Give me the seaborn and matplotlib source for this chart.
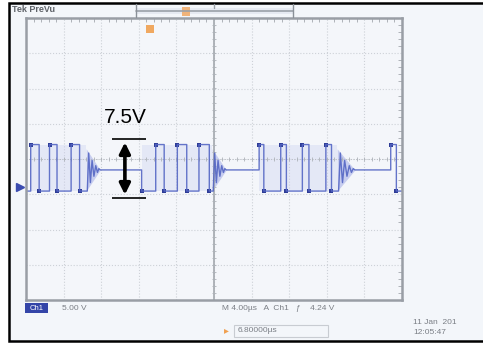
import numpy as np
import pandas as pd
import matplotlib
matplotlib.use("Agg")
import matplotlib.pyplot as plt
import seaborn as sns
from matplotlib.patches import Rectangle

sns.set_style("white")
plt.rcParams['font.family'] = ['Liberation Sans', 'DejaVu Sans']

# --- scope settings ---
volts_per_div = 5.0
us_per_div = 4.0
ground_div = -0.79          # channel 1 ground marker position (divisions)

# --- signal levels (V) ---
level_high = 6.0
level_low = -0.6
level_idle = 2.4

# --- channel 1 edges: time (us) and new level (V) ---
edge_t = [0.0, 0.5, 1.4, 2.5, 3.3, 4.8, 5.7,
          12.3, 13.8, 14.7, 16.1, 17.1, 18.4, 19.5,
          24.8, 25.3, 27.1, 27.7, 29.4, 30.1, 31.9, 32.5,
          38.8, 39.4]
edge_v = [-0.6, 6.0, -0.6, 6.0, -0.6, 6.0, -0.6,
          -0.6, 6.0, -0.6, 6.0, -0.6, 6.0, -0.6,
          6.0, -0.6, 6.0, -0.6, 6.0, -0.6, 6.0, -0.6,
          6.0, -0.6]

# --- ringing after each burst (settles to idle level) ---
ring_t0 = [6.4, 19.8, 33.1]
ring_len = [1.5, 1.5, 1.9]
ring_frac = [0.08, 0.18, 0.3, 0.42, 0.55, 0.68, 0.8, 0.9, 1.0]
ring_shape = [-1.0, 0.8, -0.6, 0.45, -0.3, 0.2, -0.12, 0.06, 0.0]
ring_swing = 3.0

# burst spans for persistence shading (us)
burst_start = [0.5, 12.3, 24.8]
burst_end = [6.4, 19.8, 33.1]

# --- build trace ---
pts = [(0.0, edge_v[0])]
v = edge_v[0]
rings = list(zip(ring_t0, ring_len))
for t, nv in zip(edge_t[1:], edge_v[1:]):
    while rings and rings[0][0] < t:
        r0, rl = rings.pop(0)
        pts.append((r0, v))
        for f, s in zip(ring_frac, ring_shape):
            pts.append((r0 + rl * f, level_idle + s * ring_swing))
        v = level_idle
    pts.append((t, v))
    pts.append((t, nv))
    v = nv
pts.append((40.0, v))

df = pd.DataFrame(pts, columns=["t", "v"])
df["x"] = df["t"] / us_per_div
df["y"] = df["v"] / volts_per_div + ground_div

dots = pd.DataFrame({"x": np.array(edge_t[1:]) / us_per_div,
                     "y": np.array(edge_v[1:]) / volts_per_div + ground_div})

def vdiv(volts):
    return volts / volts_per_div + ground_div

W, H = 483, 343
fig = plt.figure(figsize=(W / 100, H / 100), dpi=100)
fig.patch.set_facecolor("white")

def fx(px):
    return px / W

def fy(py):
    return 1 - py / H

# outer screen frame
fig.patches.append(Rectangle((fx(9), fy(341)), fx(480), 338 / H, transform=fig.transFigure,
                             facecolor="#f3f6fa", edgecolor="black", lw=1.8, zorder=-10))

ax = fig.add_axes([fx(26), fy(300), 376 / W, 282 / H])
ax.set_zorder(1)
ax.set_facecolor("#f4f6fa")
ax.set_xlim(0, 10)
ax.set_ylim(-4, 4)

# graticule
ax.set_xticks(np.arange(0, 11))
ax.set_yticks(np.arange(-4, 5))
ax.set_xticks(np.arange(0, 10.01, 0.2), minor=True)
ax.set_yticks(np.arange(-4, 4.01, 0.2), minor=True)
ax.grid(True, which="major", color="#cdd1d7", ls=":", lw=0.8)
ax.tick_params(which="both", direction="in", top=True, right=True, labelbottom=False, labelleft=False,
               color="#a3a8ae")
ax.tick_params(which="major", length=0)
ax.tick_params(which="minor", length=3, width=0.6)
for sp in ax.spines.values():
    sp.set_color("#999ea5")
    sp.set_linewidth(1.8)
ax.axvline(5, color="#a3a8ae", lw=1.2)
ax.axhline(0, color="#b8bcc2", lw=0.7, ls=":")
ax.vlines(np.arange(0, 10.01, 0.2), -0.06, 0.06, color="#adb2b8", lw=0.6)
ax.hlines(np.arange(-4, 4.01, 0.2), 4.94, 5.06, color="#adb2b8", lw=0.6)

# persistence shading
for b0, b1 in zip(burst_start, burst_end):
    ax.fill_between([b0 / us_per_div, b1 / us_per_div], vdiv(level_low), vdiv(level_high),
                    color="#c8cef0", alpha=0.35, lw=0)
for r0, rl in zip(ring_t0, ring_len):
    ax.fill_between([r0 / us_per_div, (r0 + rl) / us_per_div],
                    [vdiv(level_idle - ring_swing), vdiv(level_idle)],
                    [vdiv(level_idle + ring_swing), vdiv(level_idle)],
                    color="#aab3e8", alpha=0.6, lw=0)

# trace
sns.lineplot(data=df, x="x", y="y", sort=False, estimator=None, color="#5466c4", lw=1.0, alpha=0.9, ax=ax)
sns.scatterplot(data=dots, x="x", y="y", color="#2e3c96", s=10, marker="s", linewidth=0, ax=ax)
ax.set_xlabel("")
ax.set_ylabel("")

# channel 1 ground marker
ax.plot([-0.17], [ground_div], marker=">", ms=6, color="#3b4cb0", clip_on=False)

# 7.5V annotation
arrow_x = 2.63
ax.annotate("", xy=(arrow_x, 0.55), xytext=(arrow_x, -1.09),
            arrowprops=dict(arrowstyle="<|-|>", color="black", lw=2.6, mutation_scale=16))
ax.hlines([0.57, -1.11], 2.28, 3.19, color="black", lw=1.2)
ax.text(arrow_x, 0.92, "7.5V", ha="center", va="bottom", fontsize=15, color="black")

# top header
fig.text(fx(12), fy(9), "Tek PreVu", fontsize=6.5, fontweight="bold", color="#5e6268", va="center")
fig.patches.append(Rectangle((fx(136), fy(14)), 157 / W, 6 / H, transform=fig.transFigure,
                             facecolor="#e6eaf2", edgecolor="none"))
fig.add_artist(plt.Line2D([fx(136), fx(293)], [fy(11), fy(11)], color="#9aa0a8", lw=1.2))
fig.add_artist(plt.Line2D([fx(136), fx(136)], [fy(4), fy(17)], color="#8a9098", lw=1.0))
fig.add_artist(plt.Line2D([fx(293), fx(293)], [fy(4), fy(17)], color="#8a9098", lw=1.0))
fig.patches.append(Rectangle((fx(182), fy(16)), 8 / W, 9 / H, transform=fig.transFigure,
                             facecolor="#f0b37a", edgecolor="none"))
fig.add_artist(plt.Line2D([fx(214), fx(214)], [fy(4), fy(8)], color="#9aa0a8", lw=1.0))
fig.patches.append(Rectangle((fx(146), fy(33)), 8 / W, 8 / H, transform=fig.transFigure,
                             facecolor="#f0a860", edgecolor="none", zorder=5))

# bottom status
fig.patches.append(Rectangle((fx(25), fy(313)), 23 / W, 10 / H, transform=fig.transFigure,
                             facecolor="#3445a8", edgecolor="none"))
fig.text(fx(36.5), fy(308), "Ch1", fontsize=5.5, color="white", ha="center", va="center")
fig.text(fx(62), fy(308), "5.00 V", fontsize=6, color="#7a7e85", va="center")
fig.text(fx(222), fy(308), "M 4.00µs   A  Ch1   ƒ    4.24 V", fontsize=6, color="#7a7e85", va="center")
fig.text(fx(224), fy(330), "▸", fontsize=7, color="#f0a050", va="center")
fig.patches.append(Rectangle((fx(234), fy(337)), 94 / W, 12 / H, transform=fig.transFigure,
                             facecolor="none", edgecolor="#c8ccd2", lw=0.8))
fig.text(fx(238), fy(330.5), "6.80000µs", fontsize=6, color="#7a7e85", va="center")
fig.text(fx(413), fy(322), "11 Jan  201", fontsize=6, color="#7a7e85", va="center")
fig.text(fx(413), fy(333), "12:05:47", fontsize=6, color="#7a7e85", va="center")

fig.savefig("out.png", dpi=100)
